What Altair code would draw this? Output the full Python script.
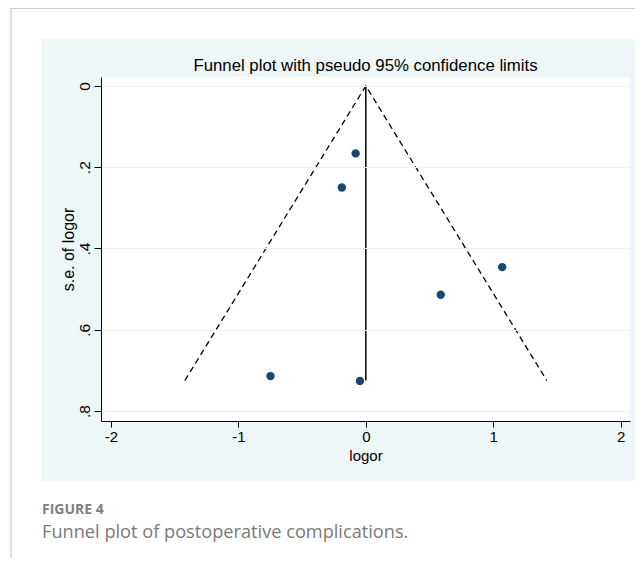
import altair as alt
import pandas as pd

# Study estimates (log odds ratio) and their standard errors
logor = [-0.08, -0.188, 1.07, 0.588, -0.748, -0.046]
se_logor = [0.166, 0.250, 0.446, 0.514, 0.714, 0.726]

# Pseudo 95% confidence limits (funnel) and pooled estimate line
funnel_x = [-1.42, 0.0, 1.42]
funnel_y = [0.725, 0.0, 0.725]
pooled_x = [0.0, 0.0]
pooled_y = [0.0, 0.725]

x_ticks = [-2, -1, 0, 1, 2]
y_ticks = [0, 0.2, 0.4, 0.6, 0.8]

title_text = "Funnel plot with pseudo 95% confidence limits"
fig_label = "FIGURE 4"
fig_caption = "Funnel plot of postoperative complications."

W, H = 529, 344
FONT = "Liberation Sans"

pts = pd.DataFrame({"logor": logor, "se": se_logor})
fun = pd.DataFrame({"logor": funnel_x, "se": funnel_y, "o": [0, 1, 2]})
pool = pd.DataFrame({"logor": pooled_x, "se": pooled_y, "o": [0, 1]})
one = pd.DataFrame({"a": [0]})

xscale = alt.Scale(domain=[-2.078, 2.073], nice=False, zero=False)
yscale = alt.Scale(domain=[-0.022, 0.8246], nice=False, zero=False, reverse=True)

xaxis = alt.Axis(values=x_ticks, title="logor", grid=False, tickSize=6, zindex=2,
                 labelExpr="datum.value < 0 ? '-' + abs(datum.value) : '' + datum.value",
                 labelPadding=2, labelFontSize=15, titleFontSize=15,
                 titleFontWeight="normal", titleX=W / 2, titleY=34,
                 titleBaseline="middle", titleAlign="center", labelFlush=False)
yaxis = alt.Axis(values=y_ticks, title="s.e. of logor", grid=True, zindex=2,
                 gridColor="#edf4f6", tickSize=7, labelAngle=270,
                 labelAlign="center", labelBaseline="bottom", labelPadding=2,
                 labelFontSize=15.5, titleFontSize=16, titleFontWeight="normal",
                 titleX=-33, titleY=H / 2, titleAngle=270, titleAlign="center",
                 titleBaseline="middle", labelFlush=False,
                 labelExpr="datum.value == 0 ? '0' : replace(format(datum.value, '.1f'), '0.', '.')")

panel = alt.Chart(one).mark_rect(color="#eef6f8").encode(
    x=alt.value(-60), x2=alt.value(534), y=alt.value(-38), y2=alt.value(404))
plotbg = alt.Chart(one).mark_rect(color="white").encode(
    x=alt.value(0), x2=alt.value(W), y=alt.value(0), y2=alt.value(H))
frame_top = alt.Chart(one).mark_rule(color="#cccccc", strokeWidth=1.2).encode(
    x=alt.value(-90), x2=alt.value(534), y=alt.value(-68.5))
frame_left = alt.Chart(one).mark_rule(color="#cccccc", strokeWidth=1.2).encode(
    x=alt.value(-90), y=alt.value(-69), y2=alt.value(481))

funnel = alt.Chart(fun).mark_line(color="black", strokeWidth=1.3, strokeDash=[6, 4]).encode(
    x=alt.X("logor:Q", scale=xscale, axis=xaxis),
    y=alt.Y("se:Q", scale=yscale, axis=yaxis),
    order="o:Q")
pooled = alt.Chart(pool).mark_line(color="black", strokeWidth=1.5).encode(
    x=alt.X("logor:Q", scale=xscale),
    y=alt.Y("se:Q", scale=yscale),
    order="o:Q")
points = alt.Chart(pts).mark_point(filled=True, size=70, opacity=1, color="#1a476f").encode(
    x=alt.X("logor:Q", scale=xscale),
    y=alt.Y("se:Q", scale=yscale))

title = alt.Chart(pd.DataFrame({"t": [title_text]})).mark_text(
    font=FONT, fontSize=16.8, color="black", align="center", baseline="middle").encode(
    x=alt.value(W / 2), y=alt.value(-11), text="t:N")
lab = alt.Chart(pd.DataFrame({"t": [fig_label]})).mark_text(
    font="Open Sans", fontSize=14, fontWeight="bold", color="#808080", align="left",
    baseline="alphabetic").encode(x=alt.value(-59), y=alt.value(437), text="t:N")
cap = alt.Chart(pd.DataFrame({"t": [fig_caption]})).mark_text(
    font="Open Sans", fontSize=18.2, color="#7a7a7a", align="left",
    baseline="alphabetic").encode(x=alt.value(-59), y=alt.value(461), text="t:N")

chart = alt.layer(panel, plotbg, frame_top, frame_left, funnel, pooled, points,
                  title, lab, cap).properties(
    width=W, height=H,
    autosize=alt.AutoSizeParams(type="none"),
    padding={"left": 93, "top": 69, "right": 5, "bottom": 137},
    background="white",
).configure_view(stroke=None, fill=None).configure_axis(
    domainColor="black", tickColor="black", labelColor="black",
    titleColor="black", labelFont=FONT, titleFont=FONT, domainWidth=1, tickWidth=1)

chart.save("out.html", embed_options={"renderer": "svg", "actions": False})
